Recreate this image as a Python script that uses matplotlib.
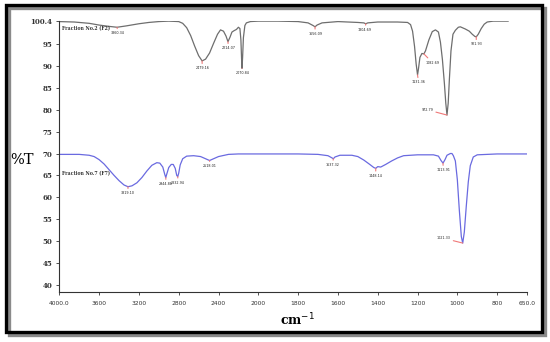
import numpy as np
import matplotlib
matplotlib.use('Agg')
import matplotlib.pyplot as plt
from matplotlib.patches import Rectangle

# Fraction No.2 (F2) (wavenumber, %T)
f2_wn = [4000, 3850, 3700, 3600, 3500, 3420, 3330, 3200, 3100, 3000, 2900, 2800,
         2760, 2720, 2680, 2640, 2600, 2565, 2530, 2490, 2450, 2410, 2380, 2350,
         2325, 2305, 2285, 2265, 2245, 2220, 2200, 2185, 2175, 2168, 2164, 2158,
         2150, 2135, 2120, 2080, 2000, 1900, 1800, 1750, 1725, 1715, 1705, 1680,
         1600, 1500, 1470, 1460, 1450, 1400, 1300, 1250, 1235, 1225, 1215, 1207,
         1200, 1195, 1188, 1178, 1168, 1160, 1143, 1126, 1110, 1095, 1085, 1075,
         1065, 1058, 1052, 1046, 1040, 1032, 1022, 1010, 995, 985, 975, 960, 940,
         925, 912, 905, 895, 880, 865, 850, 820, 780, 745]
f2_t = [100.2, 100.1, 99.8, 99.4, 99.1, 98.9, 99.2, 99.7, 100.0, 100.2, 100.3, 100.2,
        99.8, 98.8, 97.0, 94.6, 92.4, 91.2, 91.6, 93.0, 95.2, 97.3, 98.3, 98.0,
        96.9, 95.6, 96.6, 97.8, 98.1, 98.4, 98.9, 98.6, 96.0, 91.5, 89.5, 92.0,
        96.5, 99.3, 99.9, 100.2, 100.3, 100.3, 100.2, 99.9, 99.3, 99.0, 99.4, 99.9,
        100.2, 100.0, 99.9, 99.7, 99.9, 100.1, 100.1, 100.0, 99.5, 98.0, 94.5, 90.5,
        88.0, 89.5, 92.0, 92.9, 92.8, 93.5, 96.0, 97.9, 98.3, 97.8, 95.5, 91.5,
        86.0, 81.5, 78.8, 81.5, 87.0, 93.5, 97.3, 98.2, 98.9, 99.0, 98.8, 98.5, 98.0,
        97.3, 96.8, 96.7, 97.3, 98.6, 99.6, 100.1, 100.3, 100.3, 100.3]

# Fraction No.7 (F7)
f7_wn = [4000, 3800, 3700, 3650, 3600, 3550, 3500, 3450, 3400, 3350, 3310, 3270,
         3220, 3170, 3120, 3070, 3020, 2990, 2960, 2940, 2930, 2920, 2900, 2875,
         2855, 2835, 2820, 2810, 2800, 2785, 2760, 2720, 2650, 2580, 2530, 2490,
         2450, 2400, 2300, 2200, 2000, 1800, 1700, 1650, 1630, 1623, 1615, 1590,
         1530, 1500, 1470, 1440, 1420, 1410, 1400, 1385, 1360, 1330, 1300, 1270,
         1200, 1120, 1095, 1082, 1072, 1062, 1052, 1035, 1027, 1020, 1010, 1000,
         990, 980, 973, 965, 955, 945, 935, 920, 900, 850, 800, 720, 650]
f7_t = [69.8, 69.8, 69.6, 69.3, 68.6, 67.6, 66.3, 65.0, 63.8, 62.8, 62.4, 62.6,
        63.3, 64.5, 66.0, 67.3, 67.9, 67.8, 66.9, 65.2, 64.5, 65.3, 66.8, 67.5,
        67.5, 66.6, 65.0, 64.7, 65.5, 67.4, 68.8, 69.4, 69.5, 69.3, 68.8, 68.4,
        68.8, 69.3, 69.8, 69.9, 69.9, 69.9, 69.8, 69.5, 69.0, 68.8, 69.2, 69.6,
        69.6, 69.3, 68.5, 67.5, 66.8, 66.6, 67.0, 66.9, 67.5, 68.3, 69.0, 69.5,
        69.7, 69.7, 69.4, 68.4, 67.8, 68.6, 69.6, 70.0, 70.0, 69.5, 68.3, 64.0,
        57.0, 51.0, 49.5, 52.0, 58.0, 63.5, 67.2, 69.2, 69.7, 69.8, 69.9, 69.9, 69.9]

# peak labels: (peak wn, peak T, text, text wn, text T)
f2_peaks = [(3420, 98.9, '3360.34', 3411, 97.5),
            (2565, 91.2, '2479.16', 2564, 89.5),
            (2305, 95.6, '2214.07', 2302, 94.1),
            (2164, 89.5, '2070.84', 2162, 88.4),
            (1715, 99.0, '1656.09', 1715, 97.4),
            (1460, 99.7, '1304.69', 1465, 98.3),
            (1200, 88.0, '1131.36', 1195, 86.3),
            (1168, 92.8, '1082.69', 1125, 90.8),
            (1052, 78.8, '972.79', 1151, 80.0),
            (905, 96.7, '921.93', 905, 95.0)]
f7_peaks = [(3310, 62.4, '3319.10', 3309, 60.9),
            (2930, 64.5, '2944.88', 2927, 63.0),
            (2810, 64.7, '2832.94', 2806, 63.3),
            (2490, 68.4, '2518.01', 2484, 67.1),
            (1623, 68.8, '1637.32', 1628, 67.4),
            (1410, 66.6, '1448.14', 1410, 64.9),
            (1072, 67.8, '1113.91', 1071, 66.2),
            (973, 49.5, '1021.33', 1069, 50.6)]

xticks = [4000, 3600, 3200, 2800, 2400, 2000, 1800, 1600, 1400, 1200, 1000, 800, 650]
xlabels = ['4000.0', '3600', '3200', '2800', '2400', '2000', '1800', '1600',
           '1400', '1200', '1000', '800', '650.0']
yticks = [100.4, 95, 90, 85, 80, 75, 70, 65, 60, 55, 50, 45, 40]
ylabels = ['100.4', '95', '90', '85', '80', '75', '70', '65', '60', '55', '50', '45', '40']


# the x axis is compressed 2:1 above 2000 cm-1
def fwd(x):
    x = np.asarray(x, float)
    return np.where(x > 2000, 2000 + (x - 2000) / 2.0, x)


def inv(p):
    p = np.asarray(p, float)
    return np.where(p > 2000, 2000 + (p - 2000) * 2.0, p)


W, H = 550, 342
fig = plt.figure(figsize=(5.5, 3.42), dpi=100)
ax = fig.add_axes([59.3 / W, 1 - 292 / H, (527 - 59.3) / W, (292 - 20.7) / H])

ax.set_xscale('function', functions=(fwd, inv))
ax.plot(f2_wn, f2_t, color='#6e6e6e', lw=0.9)
ax.plot(f7_wn, f7_t, color='#6a6ae0', lw=0.9)

for pk in f2_peaks + f7_peaks:
    ax.annotate(pk[2], xy=(pk[0], pk[1]), xytext=(pk[3], pk[4]),
                ha='center', va='center', fontsize=2.4, color='#222222',
                arrowprops=dict(arrowstyle='-', color='#f07878', lw=0.8,
                                shrinkA=0, shrinkB=0))

ax.text(3975, 98.7, 'Fraction No.2 (F2)', fontsize=3.3, family='DejaVu Serif',
        fontweight='bold', color='#333333', va='center', ha='left')
ax.text(3975, 65.3, 'Fraction No.7 (F7)', fontsize=3.3, family='DejaVu Serif',
        fontweight='bold', color='#333333', va='center', ha='left')

ax.set_xlim(4000, 650)
ax.set_ylim(38.3, 100.4)
ax.set_xticks(xticks)
ax.set_xticklabels(xlabels, fontsize=4.3, family=['Liberation Sans Narrow', 'DejaVu Sans'],
                   color='#333333')
ax.minorticks_off()
ax.set_yticks(yticks)
ax.set_yticklabels(ylabels, fontsize=5, family='DejaVu Serif', fontweight='bold',
                   color='#333333')
ax.tick_params(axis='both', direction='out', length=2.5, width=0.6, color='#333333', pad=2.5)
ax.tick_params(axis='x', pad=4)

for s in ['top', 'right']:
    ax.spines[s].set_visible(False)
for s in ['left', 'bottom']:
    ax.spines[s].set_color('#333333')
    ax.spines[s].set_linewidth(0.8)

fig.text(22 / W, 1 - 160 / H, '%T', fontsize=10.5, family='DejaVu Serif',
         ha='center', va='center')
fig.text(298 / W, 1 - 320 / H, 'cm$^{-1}$', fontsize=9, family='DejaVu Serif',
         fontweight='bold', ha='center', va='center')

# framed border with a drop shadow
fig.patches.append(Rectangle((8.7 / W, 1 - 335.3 / H), (541.6 - 5.7) / W, (332.3 - 5) / H,
                             transform=fig.transFigure, fill=False, ec='#8a8a8a', lw=2.4))
fig.patches.append(Rectangle((5.7 / W, 1 - 332.3 / H), (541.6 - 5.7) / W, (332.3 - 5) / H,
                             transform=fig.transFigure, fill=False, ec='black', lw=2.4))

fig.savefig('out.png', dpi=100)
